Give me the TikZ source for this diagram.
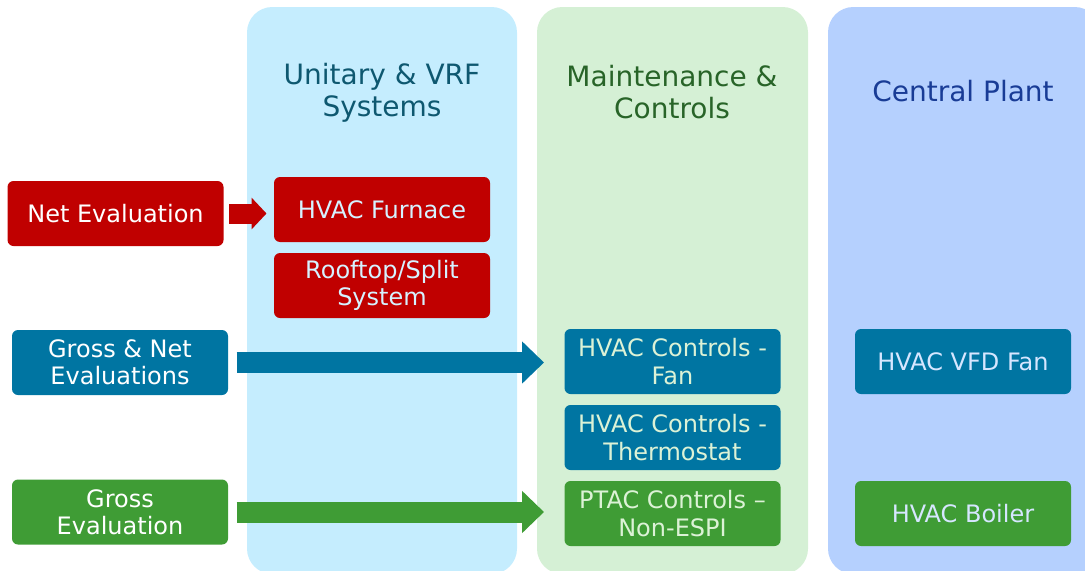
\documentclass[tikz,border=0pt]{standalone}
\usepackage{fontspec}
\setmainfont{DejaVu Sans}
\usetikzlibrary{arrows.meta}

\definecolor{evalred}{RGB}{192,0,0}
\definecolor{evalteal}{RGB}{0,117,162}
\definecolor{evalgreen}{RGB}{63,156,53}
\definecolor{unitarybg}{RGB}{197,237,254}
\definecolor{maintbg}{RGB}{213,240,213}
\definecolor{plantbg}{RGB}{181,208,254}
\definecolor{unitaryfg}{RGB}{14,88,112}
\definecolor{maintfg}{RGB}{40,100,40}
\definecolor{plantfg}{RGB}{25,60,150}
\definecolor{unitarytx}{RGB}{214,242,255}
\definecolor{mainttx}{RGB}{220,242,214}
\definecolor{planttx}{RGB}{214,230,255}

\tikzset{every picture/.style={line width=0.75pt}}
\tikzset{
  measure/.style={draw=none, rounded corners=4.5pt, minimum width=162pt, minimum height=48.75pt,
    inner sep=0pt, align=center, font=\fontsize{18}{20.5}\selectfont},
  coltitle/.style={align=center, font=\fontsize{21}{24}\selectfont},
  blockarrow/.style={line width=15.75pt, -{Triangle[length=16.5pt,width=30.75pt]}}
}

\begin{document}
\begin{tikzpicture}[x=0.75pt,y=0.75pt,yscale=-1,xscale=1]
\useasboundingbox (0,0) rectangle (1085,571);

%Columns
\fill [unitarybg, rounded corners=19pt] (247,7) rectangle (517,574);
\fill [maintbg, rounded corners=19pt] (537,7) rectangle (808,574);
\fill [plantbg, rounded corners=19pt] (828,7) rectangle (1100,574);

% Column titles
\node (unitary) [coltitle, text=unitaryfg] at (382,92.5) {Unitary \& VRF\\Systems};
\node (maint) [coltitle, text=maintfg] at (672,92.5) {Maintenance \&\\Controls};
\node (plant) [coltitle, text=plantfg] at (963,91) {Central Plant};

% Evaluation boxes
\node (neteval) [measure, fill=evalred, text=white] at (115.5,213.5) {Net Evaluation};
\node (grossnet) [measure, fill=evalteal, text=white] at (120,362.5) {Gross \& Net\\Evaluations};
\node (gross) [measure, fill=evalgreen, text=white] at (120,512) {Gross\\Evaluation};

% Measure boxes
\node (furnace) [measure, fill=evalred, text=unitarytx] at (382,209.5) {HVAC Furnace};
\node (rooftop) [measure, fill=evalred, text=unitarytx] at (382,285.5) {Rooftop/Split\\System};
\node (ctlfan) [measure, fill=evalteal, text=mainttx] at (672.5,361.5) {HVAC Controls -\\Fan};
\node (ctltherm) [measure, fill=evalteal, text=mainttx] at (672.5,437.5) {HVAC Controls -\\Thermostat};
\node (ptac) [measure, fill=evalgreen, text=mainttx] at (672.5,513.5) {PTAC Controls --\\Non-ESPI};
\node (vfdfan) [measure, fill=evalteal, text=planttx] at (963,361.5) {HVAC VFD Fan};
\node (boiler) [measure, fill=evalgreen, text=planttx] at (963,513.5) {HVAC Boiler};

% Block arrows
\draw [evalred, line width=15pt, -{Triangle[length=11.25pt,width=23.25pt]}, shorten <=3.75pt, shorten >=5.25pt]
  (neteval.east) -- (neteval.east -| furnace.west);
\draw [evalteal, blockarrow, shorten <=6pt, shorten >=15pt] (grossnet.east) -- (grossnet.east -| ctlfan.west);
\draw [evalgreen, blockarrow, shorten <=6pt, shorten >=15pt] (gross.east) -- (gross.east -| ptac.west);

\end{tikzpicture}
\end{document}
